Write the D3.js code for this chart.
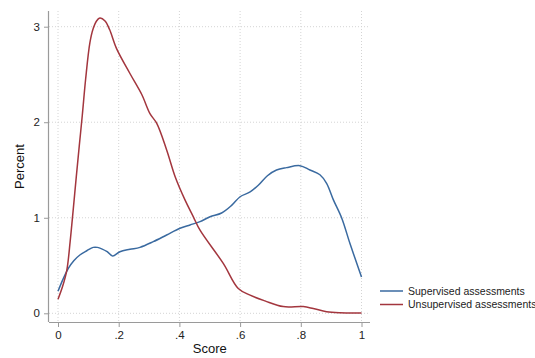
<!DOCTYPE html>
<html>
<head>
<meta charset="utf-8">
<script src="https://cdn.jsdelivr.net/npm/d3@7"></script>
<style>
	body { margin: 0; background: #fff; }
	svg { font-family: 'Liberation Sans', Arial, sans-serif; }
</style>
</head>
<body>
<div id="chart"></div>
<script>
// Score / percent pairs
const supervisedScore = [0, 0.017, 0.034, 0.052, 0.072, 0.095, 0.116, 0.13, 0.144, 0.162, 0.18, 0.204, 0.237, 0.27, 0.314, 0.358, 0.402, 0.435, 0.468, 0.501, 0.539, 0.572, 0.6, 0.633, 0.66, 0.69, 0.72, 0.753, 0.797, 0.83, 0.863, 0.885, 0.907, 0.935, 0.962, 1];
const supervisedPct = [0.23, 0.36, 0.47, 0.55, 0.61, 0.655, 0.69, 0.69, 0.675, 0.645, 0.6, 0.645, 0.67, 0.69, 0.75, 0.82, 0.89, 0.925, 0.96, 1.01, 1.05, 1.13, 1.22, 1.27, 1.34, 1.44, 1.5, 1.525, 1.545, 1.5, 1.45, 1.36, 1.19, 0.995, 0.73, 0.38];

const unsupervisedScore = [0, 0.015, 0.029, 0.04, 0.05, 0.06, 0.07, 0.08, 0.091, 0.105, 0.116, 0.127, 0.138, 0.155, 0.17, 0.193, 0.237, 0.276, 0.303, 0.325, 0.358, 0.386, 0.418, 0.446, 0.468, 0.545, 0.594, 0.633, 0.682, 0.742, 0.808, 0.841, 0.885, 0.929, 1];
const unsupervisedPct = [0.147, 0.28, 0.45, 0.75, 1.08, 1.42, 1.75, 2.07, 2.45, 2.83, 2.98, 3.06, 3.09, 3.06, 2.97, 2.77, 2.51, 2.29, 2.09, 1.99, 1.71, 1.43, 1.19, 1.01, 0.87, 0.52, 0.26, 0.19, 0.13, 0.07, 0.07, 0.05, 0.017, 0.006, 0.004];

const xTicks = [0, 0.2, 0.4, 0.6, 0.8, 1];
const xTickLabels = ['0', '.2', '.4', '.6', '.8', '1'];
const yTicks = [0, 1, 2, 3];

const seriesNames = ['Supervised assessments', 'Unsupervised assessments'];
const seriesColors = ['#3a6aa0', '#a3363e'];

const width = 535, height = 358;
const plot = { left: 49, right: 370, top: 11, bottom: 322 };

const x = d3.scaleLinear().domain([0, 1]).range([58, 361.5]);
const y = d3.scaleLinear().domain([0, 3]).range([313.3, 26.7]);

const svg = d3.select('#chart').append('svg')
	.attr('width', width)
	.attr('height', height);

// Gridlines
svg.append('g')
	.selectAll('line')
	.data(yTicks)
	.join('line')
	.attr('x1', plot.left).attr('x2', plot.right - 2)
	.attr('y1', d => y(d)).attr('y2', d => y(d))
	.attr('stroke', '#d4d4d4')
	.attr('stroke-width', 1)
	.attr('stroke-dasharray', '1,2');

svg.append('g')
	.selectAll('line')
	.data(xTicks)
	.join('line')
	.attr('x1', d => x(d)).attr('x2', d => x(d))
	.attr('y1', plot.top).attr('y2', plot.bottom)
	.attr('stroke', '#d4d4d4')
	.attr('stroke-width', 1)
	.attr('stroke-dasharray', '1,2');

// Axes
const xAxis = svg.append('g')
	.attr('transform', 'translate(0,' + plot.bottom + ')')
	.call(d3.axisBottom(x).tickValues(xTicks).tickFormat((d, i) => xTickLabels[i]).tickSize(5).tickPadding(4));
xAxis.select('.domain').attr('d', 'M' + plot.left + ',0.5H' + plot.right);

const yAxis = svg.append('g')
	.attr('transform', 'translate(' + plot.left + ',0)')
	.call(d3.axisLeft(y).tickValues(yTicks).tickFormat(d3.format('d')).tickSize(5).tickPadding(4));
yAxis.select('.domain').attr('d', 'M-0.5,' + plot.top + 'V' + plot.bottom);

svg.selectAll('.domain').attr('stroke', '#9a9a9a').attr('stroke-width', 1.2);
svg.selectAll('.tick line').attr('stroke', '#9a9a9a');
svg.selectAll('.tick text').attr('font-size', 11.5).attr('fill', '#222').attr('font-family', 'Liberation Sans, Arial, sans-serif');

// Axis titles
svg.append('text')
	.attr('x', (x(0) + x(1)) / 2)
	.attr('y', 353)
	.attr('text-anchor', 'middle')
	.attr('font-size', 13)
	.attr('fill', '#111')
	.text('Score');

svg.append('text')
	.attr('transform', 'translate(24,' + ((plot.top + plot.bottom) / 2) + ') rotate(-90)')
	.attr('text-anchor', 'middle')
	.attr('font-size', 13)
	.attr('fill', '#111')
	.text('Percent');

// Lines
const line = d3.line()
	.x(d => x(d[0]))
	.y(d => y(d[1]))
	.curve(d3.curveCatmullRom.alpha(0.5));

const series = [
	d3.zip(supervisedScore, supervisedPct),
	d3.zip(unsupervisedScore, unsupervisedPct)
];

svg.append('g')
	.selectAll('path')
	.data(series)
	.join('path')
	.attr('d', line)
	.attr('fill', 'none')
	.attr('stroke', (d, i) => seriesColors[i])
	.attr('stroke-width', 1.5);

// Legend
const legend = svg.append('g')
	.selectAll('g')
	.data(seriesNames)
	.join('g')
	.attr('transform', (d, i) => 'translate(380,' + (291 + i * 13.5) + ')');

legend.append('line')
	.attr('x1', 0).attr('x2', 23)
	.attr('stroke', (d, i) => seriesColors[i])
	.attr('stroke-width', 1.5);

legend.append('text')
	.attr('x', 28)
	.attr('dy', '0.35em')
	.attr('font-size', 10.5)
	.attr('fill', '#222')
	.text(d => d);
</script>
</body>
</html>
